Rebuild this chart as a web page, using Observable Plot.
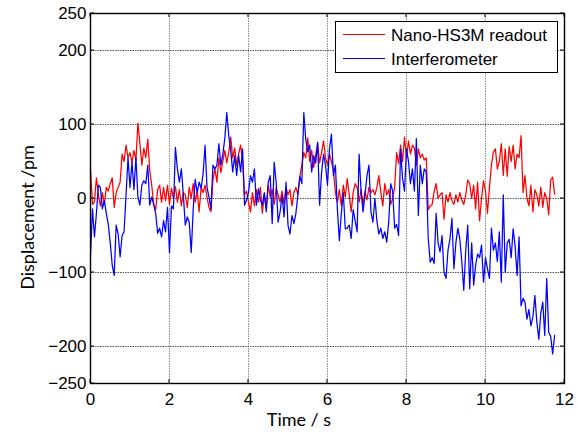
<!DOCTYPE html>
<html><head><meta charset="utf-8">
<script src="https://cdn.jsdelivr.net/npm/d3@7"></script>
<script src="https://cdn.jsdelivr.net/npm/@observablehq/plot@0.6"></script>
<style>html,body{margin:0;padding:0;background:#fff;}</style>
</head><body><div id="chart"></div>
<script>
// sample spacing (s)
const dt = 0.05;
const seriesNames = ["Nano-HS3M readout", "Interferometer"];
const seriesColors = ["#ff0000", "#0000ff"];
// Nano-HS3M readout (pm), one value every dt from t = 0
const readout = [
  40,-8,-5,28,5,-10,8,-8,15,10, 20,28,-12,8,15,22,60,50,72,55, 62,48,65,52,102,75,45,68,55,80, 38,18,-8,-15,12,18,-5,15,-3,18, -8,14,0,16,-5,12,-10,8,
  5,-12,15,0,20,-5,10,-18,15,8, 18,2,-12,-18,25,40,22,55,35,50, 65,48,62,83,55,68,45,60,72,50, 5,10,-5,-18,8,-10,12,-5,15,-20, 5,-12,18,2,12,-8,14,5,
  -5,10,-8,15,5,12,-10,8,15,5, 30,45,62,55,82,50,65,42,58,75, 48,62,78,55,45,60,50,38,8,-5, 12,-10,18,2,27,5,-18,8,20,15, -5,12,-8,10,-2,15,8,12,
  5,15,31,8,-10,20,5,12,-8,0, 15,62,47,72,50,83,55,78,60,72, 68,45,67,55,60,52,55,-15,-10,-8, 10,20,0,5,8,-28,5,-5,8,-3, -8,5,-5,8,-2,-8,5,25,
  20,0,18,-14,22,-30,0,24,10,-20, 15,45,63,67,40,50,74,31,67,30, 70,50,72,40,60,55,85,8,31,0, -10,18,-18,12,5,-10,15,-12,8,0, -22,25,29,6
];
// Interferometer (pm), one value every dt from t = 0
const interferometer = [
  -77,-14,-52,-20,18,15,-14,-3,-20,-35, -60,-90,-104,-36,-48,-79,-50,-45,5,55, 15,49,12,55,2,-9,18,24,20,45, -9,2,-8,-20,-47,-40,-52,-30,-45,-12, -73,-10,-14,69,40,22,40,5,
  -36,-25,-32,-73,-15,26,8,22,14,33, 72,15,2,-14,45,40,45,74,45,60, 81,116,85,65,36,58,31,58,36,67, -9,-2,8,31,22,40,-9,13,-2,-9, 8,-18,22,31,-34,49,22,-32,
  -18,4,-25,22,-36,-48,-23,-34,-20,5, 30,20,116,80,63,72,36,58,48,76, -9,35,60,45,18,67,87,31,45,-14, -57,-20,8,-41,-40,-36,-54,-15,-30,-45, 60,10,-18,5,31,45,-18,-32,
  0,-30,-48,-40,-54,-45,-59,-32,20,10, -40,-35,-50,67,27,10,67,50,20,40, 10,81,-23,45,20,40,36,-54,-86,-80, -88,-20,-60,-72,-50,-100,-108,-70,-55,-27, -95,-60,-40,-55,-85,-124,-70,-36,
  -122,-60,-117,-90,-75,-80,-63,-113,-80,-95, -108,-40,-70,-60,-85,-45,-113,5,-100,-60, -55,-80,-41,-65,-104,-52,-145,-135,-140,-163, -150,-172,-160,-131,-167,-190,-155,-140,-185,-108, -181,-186,-210,-185
];
const xTicks = [0, 2, 4, 6, 8, 10, 12];
const yTicks = [-250, -200, -100, 0, 100, 200, 250];
const xGrid = [2, 4, 6, 8, 10];
const yGrid = [-200, -100, 0, 100, 200];
const xLabel = "Time / s";
const yLabel = "Displacement /pm";

const toRows = (vals, name) => vals.map((v, i) => ({t: Math.round(i * dt * 100) / 100, v, series: name}));
const data = [...toRows(readout, seriesNames[0]), ...toRows(interferometer, seriesNames[1])];

const tickFont = "'Liberation Sans', Arial, sans-serif";
const labelFont = "Lato, 'Open Sans', sans-serif";

const fig = Plot.plot({
  width: 578, height: 432,
  marginLeft: 90, marginRight: 14, marginTop: 13, marginBottom: 49,
  style: {fontFamily: tickFont, fontSize: "17px", background: "#fff", color: "#000"},
  x: {domain: [0, 12]},
  y: {domain: [-250, 250]},
  color: {domain: seriesNames, range: seriesColors},
  marks: [
    Plot.gridX(xGrid, {stroke: "#8a8a8a", strokeOpacity: 1, strokeWidth: 1, strokeDasharray: "1.5,1"}),
    Plot.gridY(yGrid, {stroke: "#555", strokeOpacity: 1, strokeWidth: 1, strokeDasharray: "1.5,1"}),
    Plot.line(data, {x: "t", y: "v", z: "series", stroke: "series", strokeWidth: 1.25}),
    Plot.frame({stroke: "#000", strokeWidth: 1.4}),
    Plot.axisX(xTicks, {tickSize: 0, tickPadding: 9, label: null, fontSize: 17}),
    Plot.axisY(yTicks, {tickSize: 0, tickPadding: 4, label: null, fontSize: 17})
  ]
});

const svg = d3.select(fig);
const sx = fig.scale("x"), sy = fig.scale("y");
const [x0, x1] = sx.range, [y0, y1] = sy.range; // y0 bottom, y1 top
const tk = 4;
const tg = svg.append("g").attr("stroke", "#000").attr("stroke-width", 1);
xTicks.forEach(v => {
  const px = sx.apply(v);
  tg.append("line").attr("x1", px).attr("x2", px).attr("y1", y0).attr("y2", y0 - tk);
  tg.append("line").attr("x1", px).attr("x2", px).attr("y1", y1).attr("y2", y1 + tk);
});
yTicks.forEach(v => {
  const py = sy.apply(v);
  tg.append("line").attr("x1", x0).attr("x2", x0 + tk).attr("y1", py).attr("y2", py);
  tg.append("line").attr("x1", x1).attr("x2", x1 - tk).attr("y1", py).attr("y2", py);
});

// axis titles
const at = svg.append("g").attr("font-family", labelFont).attr("font-size", 18).attr("fill", "#000").attr("text-anchor", "middle");
at.append("text").attr("x", 299).attr("y", 420).attr("dy", "0.35em").text(xLabel);
at.append("text").attr("transform", "translate(28,217.5) rotate(-90)").attr("dy", "0.35em").text(yLabel);

// legend box (top-right, inside the frame)
const lg = svg.append("g").attr("font-family", tickFont).attr("font-size", 17).attr("text-anchor", "start");
lg.append("rect").attr("x", 335.5).attr("y", 21.5).attr("width", 222).attr("height", 51)
  .attr("fill", "#fff").attr("stroke", "#000").attr("stroke-width", 1);
seriesNames.forEach((name, i) => {
  const cy = 34.5 + i * 24;
  lg.append("line").attr("x1", 343).attr("x2", 385).attr("y1", cy).attr("y2", cy)
    .attr("stroke", seriesColors[i]).attr("stroke-width", 1);
  lg.append("text").attr("x", 391).attr("y", cy + 6).attr("fill", "#000").text(name);
});

document.getElementById("chart").appendChild(fig);
</script>
</body></html>
